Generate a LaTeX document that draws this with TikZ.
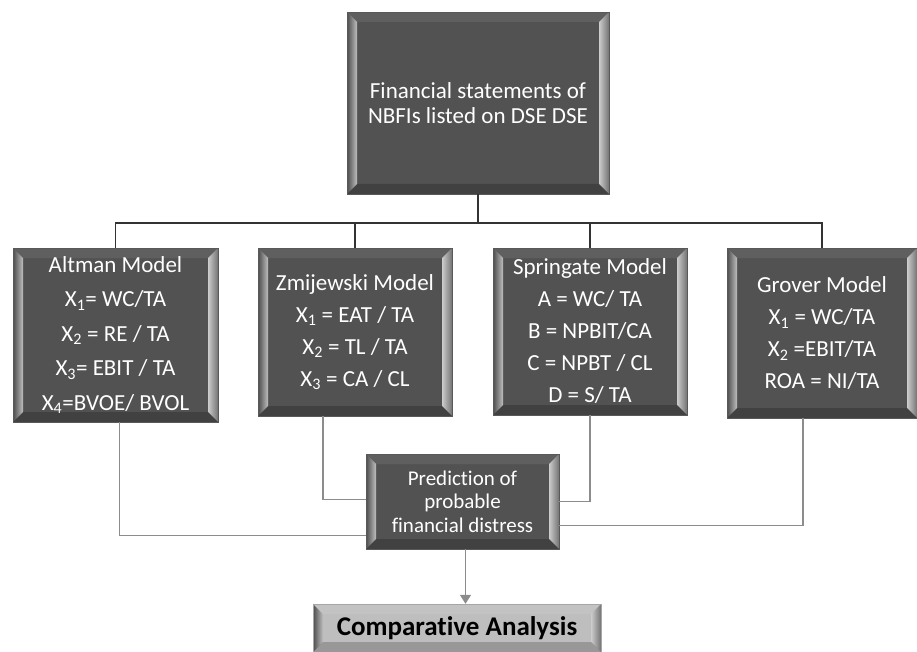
\documentclass[tikz,border=0pt]{standalone}
\usepackage{fontspec}
\setmainfont{Carlito}[Ligatures=NoCommon]
\usetikzlibrary{positioning, arrows.meta, calc}

\definecolor{boxgray}{RGB}{82,82,82}
\definecolor{linegray}{RGB}{140,140,140}
\definecolor{litegray}{RGB}{190,190,190}

\tikzset{
  bevelbox/.style={draw=black!65, fill=boxgray, text=white, align=center, inner sep=0pt,
    path picture={
      \path (path picture bounding box.north west) coordinate (bNW)
            (path picture bounding box.north east) coordinate (bNE)
            (path picture bounding box.south west) coordinate (bSW)
            (path picture bounding box.south east) coordinate (bSE);
      \shade[left color=black!70, right color=black!25]
        (bNW) -- ([xshift=10pt,yshift=-10pt]bNW) -- ([xshift=10pt,yshift=10pt]bSW) -- (bSW) -- cycle;
      \shade[left color=black!20, right color=black!55]
        (bNE) -- ([xshift=-10pt,yshift=-10pt]bNE) -- ([xshift=-10pt,yshift=10pt]bSE) -- (bSE) -- cycle;
      \fill[white, opacity=.08]
        (bNW) -- ([xshift=10pt,yshift=-10pt]bNW) -- ([xshift=-10pt,yshift=-10pt]bNE) -- (bNE) -- cycle;
      \fill[black, opacity=.2]
        (bSW) -- ([xshift=10pt,yshift=10pt]bSW) -- ([xshift=-10pt,yshift=10pt]bSE) -- (bSE) -- cycle;
    }},
  litebox/.style={bevelbox, draw=black!35, fill=litegray, text=black},
  busline/.style={draw=black!80, line width=1.2pt},
  predline/.style={draw=linegray, line width=1.2pt},
  modelfont/.style={font=\fontsize{23}{32}\selectfont}
}

\begin{document}
\begin{tikzpicture}[x=1pt, y=-1pt, >={Triangle[length=9pt, width=11pt]}]
  \useasboundingbox (0,0) rectangle (917,652);
  % source box and the four models
  \node[bevelbox, minimum width=262pt, minimum height=182pt, font=\fontsize{23}{25}\selectfont]
    (stmt) at (478,103) {Financial statements of\\NBFIs listed on DSE DSE};
  \node[bevelbox, font=\fontsize{23}{34.5}\selectfont, minimum width=205pt, minimum height=174pt] (altman) at (115.5,335)
    {Altman Model\\X\textsubscript{1}= WC/TA\\X\textsubscript{2} = RE / TA\\X\textsubscript{3}= EBIT / TA\\X\textsubscript{4}=BVOE/ BVOL};
  \node[bevelbox, modelfont, minimum width=194pt, minimum height=168pt] (zmij) at (355,332)
    {Zmijewski Model\\X\textsubscript{1} = EAT / TA\\X\textsubscript{2} = TL / TA\\X\textsubscript{3} = CA / CL};
  \node[bevelbox, modelfont, minimum width=194pt, minimum height=167pt] (spring) at (590,331.5)
    {Springate Model\\A = WC/ TA\\B = NPBIT/CA\\C = NPBT / CL\\D = S/ TA};
  \node[bevelbox, modelfont, minimum width=190pt, minimum height=170pt] (grover) at (822,333)
    {Grover Model\\X\textsubscript{1} = WC/TA\\X\textsubscript{2} =EBIT/TA\\ROA = NI/TA};
  % prediction and comparison
  \node[bevelbox, minimum width=193pt, minimum height=95pt, font=\fontsize{21}{23.5}\selectfont]
    (pred) at (462.5,501.5) {Prediction of\\probable\\financial distress};
  \node[litebox, minimum width=288pt, minimum height=48pt, font=\fontsize{27}{30}\selectfont\bfseries]
    (comp) at (457,628) {Comparative Analysis};

  \coordinate (bus) at (478,223);
  \draw[busline] (stmt.south) -- (bus);
  \draw[busline] (altman.north) |- (bus) -| (grover.north);
  \draw[busline] (zmij.north) -- (zmij.north |- bus);
  \draw[busline] (spring.north) -- (spring.north |- bus);

  \draw[predline] ([xshift=4pt]altman.south) |- ([yshift=-34pt]pred.west);
  \draw[predline] ([xshift=-32pt]zmij.south) |- ([yshift=2pt]pred.west);
  \draw[predline] (spring.south) |- (pred.east);
  \draw[predline] ([xshift=-19pt]grover.south) |- ([yshift=-24pt]pred.east);
  \draw[predline, ->] ([xshift=3pt]pred.south) -- ([xshift=3pt]pred.south |- comp.north);
\end{tikzpicture}
\end{document}
